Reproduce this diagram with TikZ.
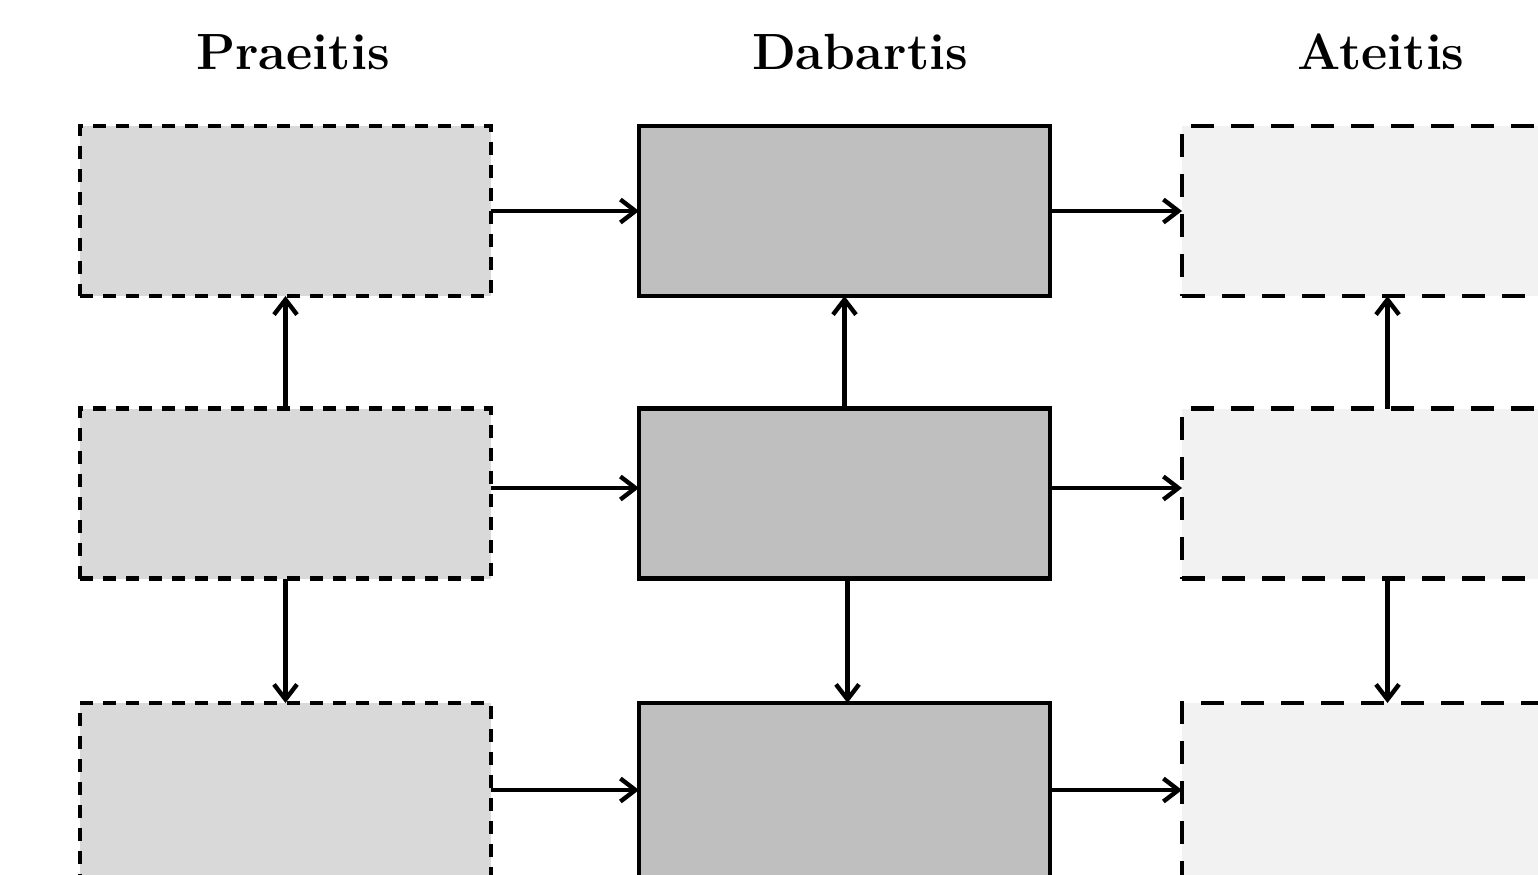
\documentclass[tikz,border=0pt]{standalone}
\usetikzlibrary{arrows.meta,positioning}
\definecolor{pastgray}{HTML}{D9D9D9}
\definecolor{nowgray}{HTML}{BFBFBF}
\definecolor{futgray}{HTML}{F2F2F2}
\tikzset{
	every node/.style={
		inner sep=0pt,
		outer sep=0pt
	},
	laikas/.style={
		shape=rectangle,
		minimum width=8.22cm,
		minimum height=3.4cm,
		line width=2.5pt,
		draw
	},
	praeitis/.style={
		laikas,
		fill=pastgray,
		dash pattern=on 0.26cm off 0.2cm
	},
	dabartis/.style={
		laikas,
		fill=nowgray
	},
	ateitis/.style={
		laikas,
		fill=futgray,
		dash pattern=on 0.46cm off 0.34cm
	},
	apacia/.style={
		minimum height=3.6cm
	},
	antraste/.style={
		font=\fontsize{29}{34}\selectfont\bfseries
	},
	rodykle/.style={
		line width=2.5pt,
		-{Straight Barb[length=0.3cm,width=0.46cm,line width=2.5pt]}
	}
}

\begin{document}
\begin{tikzpicture}
	\useasboundingbox (0,0) rectangle (30.76,-17.48);
	
	% Antrastes
	\node[antraste] (tP) at (5.86,-1.04)  {Praeitis};
	\node[antraste] (tD) at (17.2,-1.04)  {Dabartis};
	\node[antraste] (tA) at (27.62,-1.04) {Ateitis};
	
	% Praeitis
	\node[praeitis] (P1) at (5.71,-4.22)  {};
	\node[praeitis] (P2) at (5.71,-9.87)  {};
	\node[praeitis,apacia] (P3) at (5.71,-15.86) {};
	
	% Dabartis
	\node[dabartis] (D1) at (16.89,-4.22)  {};
	\node[dabartis] (D2) at (16.89,-9.87)  {};
	\node[dabartis,apacia] (D3) at (16.89,-15.86) {};
	
	% Ateitis
	\node[ateitis] (A1) at (27.75,-4.22)  {};
	\node[ateitis] (A2) at (27.75,-9.87)  {};
	\node[ateitis,apacia] (A3) at (27.75,-15.86) {};
	
	% Horizontalios rodykles
	\draw[rodykle] (P1.east) -- (D1.west);
	\draw[rodykle] ([yshift=0.11cm]P2.east) -- ([yshift=0.11cm]D2.west);
	\draw[rodykle] ([yshift=0.06cm]P3.east) -- ([yshift=0.06cm]D3.west);
	\draw[rodykle] (D1.east) -- (A1.west);
	\draw[rodykle] ([yshift=0.11cm]D2.east) -- ([yshift=0.11cm]A2.west);
	\draw[rodykle] ([yshift=0.06cm]D3.east) -- ([yshift=0.06cm]A3.west);
	
	% Vertikalios rodykles
	\draw[rodykle] (P2.north) -- (P1.south);
	\draw[rodykle] (P2.south) -- (P3.north);
	\draw[rodykle] (D2.north) -- (D1.south);
	\draw[rodykle] ([xshift=0.06cm]D2.south) -- ([xshift=0.06cm]D3.north);
	\draw[rodykle] (A2.north) -- (A1.south);
	\draw[rodykle] (A2.south) -- (A3.north);
	
\end{tikzpicture}
\end{document}
